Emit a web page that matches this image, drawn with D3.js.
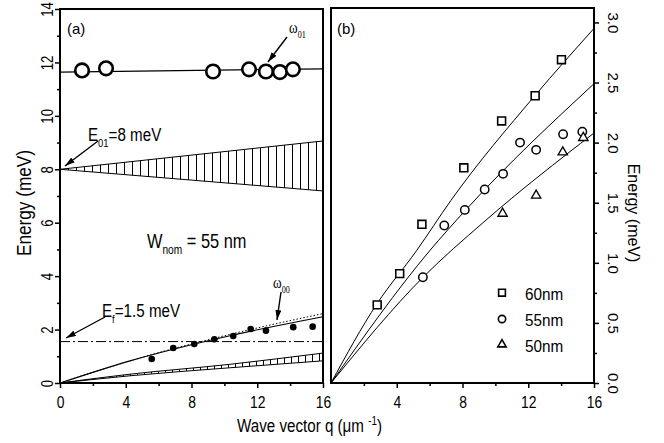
<!DOCTYPE html>
<html>
<head>
<meta charset="utf-8">
<style>
body{margin:0;background:#fff;}
svg text{font-family:"Liberation Sans",Arial,sans-serif;fill:#000;}
svg text.greek{font-family:"Liberation Serif","DejaVu Serif",serif;}
</style>
<script src="https://d3js.org/d3.v7.min.js"></script>
</head>
<body>
<script>
// ---- panel (a) ----
const w01Q = [1.34, 2.80, 9.31, 11.5, 12.53, 13.38, 14.17];
const w01E = [11.70, 11.78, 11.66, 11.74, 11.66, 11.64, 11.74];
const w01FitQ = [0, 16];
const w01FitE = [11.64, 11.76];

const w00Q = [5.58, 6.89, 8.17, 9.39, 10.54, 11.6, 12.53, 14.19, 15.37];
const w00E = [0.90, 1.31, 1.46, 1.64, 1.76, 2.02, 1.96, 2.09, 2.11];
const w00FitQ = [0, 4.26, 10.34, 16];
const w00FitE = [0, 0.83, 1.77, 2.48];
const w00DotE = [0, 0.83, 1.82, 2.60];

// continuum wedges (hatched)
const upWedgeQ = [0, 16];
const upWedgeHi = [8, 9.06];
const upWedgeLo = [8, 7.19];
const lowWedgeQ = [0, 4.26, 10.34, 16];
const lowWedgeHi = [0, 0.33, 0.70, 1.12];
const lowWedgeLo = [0, 0.27, 0.57, 0.83];

const fermiE = 1.55;

const aXTicks = [0, 4, 8, 12, 16];
const aXMinor = [2, 6, 10, 14];
const aYTicks = [0, 2, 4, 6, 8, 10, 12, 14];
const aYMinor = [1, 3, 5, 7, 9, 11, 13];

// ---- panel (b) ----
const sq60Q = [2.81, 4.18, 5.53, 8.08, 10.38, 12.42, 14.02];
const sq60E = [0.65, 0.91, 1.32, 1.79, 2.18, 2.39, 2.69];
const ci55Q = [5.59, 6.89, 8.14, 9.35, 10.47, 11.5, 12.48, 14.12, 15.29];
const ci55E = [0.88, 1.31, 1.44, 1.61, 1.74, 2.00, 1.94, 2.07, 2.09];
const tr50Q = [10.44, 12.48, 14.1, 15.35];
const tr50E = [1.41, 1.56, 1.92, 2.04];

const fit60Q = [0, 2.8, 5.2, 7.3, 12.4, 16];
const fit60E = [0, 0.66, 1.10, 1.52, 2.39, 2.95];
const fit55Q = [0, 6.0, 8.2, 16];
const fit55E = [0, 1.10, 1.44, 2.49];
const fit50Q = [0, 5.6, 9.3, 16];
const fit50E = [0, 0.88, 1.34, 2.08];

const legendNames = ["60nm", "55nm", "50nm"];

const bXTicks = [4, 8, 12, 16];
const bXMinor = [2, 6, 10, 14];
const bYTicks = [0, 0.5, 1.0, 1.5, 2.0, 2.5, 3.0];
const bYMinor = [0.25, 0.75, 1.25, 1.75, 2.25, 2.75];

const w = 664, h = 443;
const narrow = "scale(0.82,1)";   // no narrow font installed, squeeze the normal one
const zip = (a, b) => a.map((v, i) => [v, b[i]]);

const svg = d3.select("body").append("svg")
    .attr("width", w).attr("height", h);

const xA = d3.scaleLinear().domain([0, 16]).range([60, 323]);
const yA = d3.scaleLinear().domain([0, 14]).range([383, 9]);
const xB = d3.scaleLinear().domain([0, 16]).range([331, 594]);
const yB = d3.scaleLinear().domain([0, 3.12]).range([383, 8]);

const defs = svg.append("defs");
[["hatchA", 8], ["hatchB", 7]].forEach(p => {
    defs.append("pattern").attr("id", p[0])
        .attr("patternUnits", "userSpaceOnUse")
        .attr("x", 60).attr("y", 0)
        .attr("width", p[1]).attr("height", 10)
        .append("line")
        .attr("x1", 0.5).attr("x2", 0.5).attr("y1", 0).attr("y2", 10)
        .attr("stroke", "#000").attr("stroke-width", 1);
});
defs.append("marker").attr("id", "arrow")
    .attr("viewBox", "0 0 10 6").attr("refX", 10).attr("refY", 3)
    .attr("markerWidth", 10).attr("markerHeight", 6)
    .attr("markerUnits", "userSpaceOnUse").attr("orient", "auto")
    .append("path").attr("d", "M0,0L10,3L0,6z").attr("fill", "#000");

// ===== panel (a) =====
const gA = svg.append("g");
const lineA = d3.line().x(d => xA(d[0])).y(d => yA(d[1])).curve(d3.curveMonotoneX);
const areaA = d3.area().x(d => xA(d[0])).y0(d => yA(d[1])).y1(d => yA(d[2]));

gA.append("path")
    .attr("d", areaA(upWedgeQ.map((q, i) => [q, upWedgeLo[i], upWedgeHi[i]])))
    .attr("fill", "url(#hatchA)").attr("stroke", "#000").attr("stroke-width", 1);
gA.append("path")
    .attr("d", areaA.curve(d3.curveMonotoneX)(lowWedgeQ.map((q, i) => [q, lowWedgeLo[i], lowWedgeHi[i]])))
    .attr("fill", "url(#hatchB)").attr("stroke", "#000").attr("stroke-width", 1);

gA.append("line")
    .attr("x1", xA(0)).attr("x2", xA(16))
    .attr("y1", yA(fermiE)).attr("y2", yA(fermiE))
    .attr("stroke", "#000").attr("stroke-width", 1)
    .attr("stroke-dasharray", "10,3,2,3");

gA.append("path").attr("d", lineA(zip(w00FitQ, w00DotE)))
    .attr("fill", "none").attr("stroke", "#000").attr("stroke-width", 1)
    .attr("stroke-dasharray", "1.5,2");
gA.append("path").attr("d", lineA(zip(w00FitQ, w00FitE)))
    .attr("fill", "none").attr("stroke", "#000").attr("stroke-width", 1.2);
gA.append("path").attr("d", lineA(zip(w01FitQ, w01FitE)))
    .attr("fill", "none").attr("stroke", "#000").attr("stroke-width", 1.2);

gA.selectAll(".w00").data(zip(w00Q, w00E)).enter().append("circle")
    .attr("cx", d => xA(d[0])).attr("cy", d => yA(d[1])).attr("r", 3.3)
    .attr("fill", "#000");
gA.selectAll(".w01").data(zip(w01Q, w01E)).enter().append("circle")
    .attr("cx", d => xA(d[0])).attr("cy", d => yA(d[1])).attr("r", 6.8)
    .attr("fill", "#fff").attr("stroke", "#000").attr("stroke-width", 2.6);

// frame
gA.append("rect").attr("x", xA(0)).attr("y", yA(14))
    .attr("width", xA(16) - xA(0)).attr("height", yA(0) - yA(14))
    .attr("fill", "none").attr("stroke", "#000").attr("stroke-width", 2);

function styleTicks(g, size) {
    g.select(".domain").remove();
    g.selectAll(".tick line").attr("stroke-width", 1.5);
    g.attr("font-size", size).attr("font-family", null);
}

const axAx = gA.append("g").attr("transform", "translate(0,383)")
    .call(d3.axisBottom(xA).tickValues(aXTicks).tickSize(5).tickSizeOuter(0).tickFormat(d3.format("d")));
styleTicks(axAx, 17);
axAx.selectAll("text").attr("y", 25).attr("dy", null).attr("transform", narrow);
gA.append("g").attr("transform", "translate(0,383)")
    .call(d3.axisBottom(xA).tickValues(aXMinor).tickSize(3).tickFormat(""))
    .call(g => styleTicks(g, 17));

const ayAx = gA.append("g").attr("transform", "translate(60,0)")
    .call(d3.axisLeft(yA).tickValues(aYTicks).tickSize(5).tickSizeOuter(0).tickFormat(d3.format("d")));
styleTicks(ayAx, 16);
ayAx.selectAll("text").attr("x", null).attr("dy", null)
    .attr("text-anchor", "middle").attr("transform", "translate(-7,0) rotate(-90) " + narrow);
gA.append("g").attr("transform", "translate(60,0)")
    .call(d3.axisLeft(yA).tickValues(aYMinor).tickSize(3).tickFormat(""))
    .call(g => styleTicks(g, 16));

// annotations (a)
gA.append("text").attr("x", 67).attr("y", 34)
    .attr("font-size", 15).text("(a)");

function subLabel(g, x, y, main, sub, rest, size, cls) {
    const t = g.append("text").attr("font-size", size)
        .attr("transform", `translate(${x},${y}) ` + narrow);
    if (cls) t.attr("class", cls);
    t.append("tspan").text(main);
    t.append("tspan").attr("dy", size * 0.3).attr("font-size", size * 0.62).text(sub);
    if (rest) t.append("tspan").attr("dy", -size * 0.3).text(rest);
    return t;
}
subLabel(gA, 289, 33, "\u03c9", "01", null, 16, "greek");
subLabel(gA, 88, 141, "E", "01", "=8 meV", 18.5);
subLabel(gA, 147, 248, "W", "nom", " = 55 nm", 20);
subLabel(gA, 102, 317, "E", "f", "=1.5 meV", 18.5);
subLabel(gA, 273, 288, "\u03c9", "00", null, 16, "greek");

const arrows = [
    [287, 37, 268, 62],
    [98, 141, 65, 166],
    [105, 317, 66, 338],
    [281, 292, 277, 320]
];
gA.selectAll(".arr").data(arrows).enter().append("line")
    .attr("x1", d => d[0]).attr("y1", d => d[1])
    .attr("x2", d => d[2]).attr("y2", d => d[3])
    .attr("stroke", "#000").attr("stroke-width", 1.4)
    .attr("marker-end", "url(#arrow)");

// ===== panel (b) =====
const gB = svg.append("g");
const lineB = d3.line().x(d => xB(d[0])).y(d => yB(d[1])).curve(d3.curveMonotoneX);
[[fit60Q, fit60E], [fit55Q, fit55E], [fit50Q, fit50E]].forEach(f => {
    gB.append("path").attr("d", lineB(zip(f[0], f[1])))
        .attr("fill", "none").attr("stroke", "#000").attr("stroke-width", 1);
});

const symSq = d3.symbol(d3.symbolSquare, 62);
const symTr = d3.symbol(d3.symbolTriangle, 38);
gB.selectAll(".sq").data(zip(sq60Q, sq60E)).enter().append("path")
    .attr("d", symSq).attr("transform", d => `translate(${xB(d[0])},${yB(d[1])})`)
    .attr("fill", "#fff").attr("stroke", "#000").attr("stroke-width", 1.6);
gB.selectAll(".ci").data(zip(ci55Q, ci55E)).enter().append("circle")
    .attr("cx", d => xB(d[0])).attr("cy", d => yB(d[1])).attr("r", 4.2)
    .attr("fill", "#fff").attr("stroke", "#000").attr("stroke-width", 1.5);
gB.selectAll(".tr").data(zip(tr50Q, tr50E)).enter().append("path")
    .attr("d", symTr).attr("transform", d => `translate(${xB(d[0])},${yB(d[1])})`)
    .attr("fill", "#fff").attr("stroke", "#000").attr("stroke-width", 1.3);

gB.append("rect").attr("x", xB(0)).attr("y", yB(3.12))
    .attr("width", xB(16) - xB(0)).attr("height", yB(0) - yB(3.12))
    .attr("fill", "none").attr("stroke", "#000").attr("stroke-width", 2);

const bxAx = gB.append("g").attr("transform", "translate(0,383)")
    .call(d3.axisBottom(xB).tickValues(bXTicks).tickSize(5).tickSizeOuter(0).tickFormat(d3.format("d")));
styleTicks(bxAx, 17);
bxAx.selectAll("text").attr("y", 25).attr("dy", null).attr("transform", narrow);
gB.append("g").attr("transform", "translate(0,383)")
    .call(d3.axisBottom(xB).tickValues(bXMinor).tickSize(3).tickFormat(""))
    .call(g => styleTicks(g, 17));

const byAx = gB.append("g").attr("transform", "translate(594,0)")
    .call(d3.axisRight(yB).tickValues(bYTicks).tickSize(5).tickSizeOuter(0).tickFormat(d3.format(".1f")));
styleTicks(byAx, 15);
byAx.selectAll("text").attr("x", null).attr("dy", null)
    .attr("text-anchor", "middle").attr("transform", "translate(14,0) rotate(90)");
gB.append("g").attr("transform", "translate(594,0)")
    .call(d3.axisRight(yB).tickValues(bYMinor).tickSize(3).tickFormat(""))
    .call(g => styleTicks(g, 15));

gB.append("text").attr("x", 337).attr("y", 34)
    .attr("font-size", 15).text("(b)");

// legend
const legY = [292.7, 319, 344.5];
const legSyms = [d3.symbol(d3.symbolSquare, 46), d3.symbol(d3.symbolCircle, 42), d3.symbol(d3.symbolTriangle, 30)];
legendNames.forEach((name, i) => {
    gB.append("path").attr("d", legSyms[i])
        .attr("transform", `translate(502,${legY[i]})`)
        .attr("fill", "#fff").attr("stroke", "#000").attr("stroke-width", 1.6);
    gB.append("text").attr("transform", `translate(525,${legY[i] + 7}) scale(0.9,1)`)
        .attr("font-size", 17).text(name);
});

// axis titles
svg.append("text").attr("transform", "translate(31,203) rotate(-90) " + narrow)
    .attr("text-anchor", "middle").attr("font-size", 21).text("Energy (meV)");
svg.append("text").attr("transform", "translate(628,213) rotate(90)")
    .attr("text-anchor", "middle").attr("font-size", 16).text("Energy (meV)");
const xt = svg.append("text").attr("transform", "translate(237,432) " + narrow)
    .attr("font-size", 18.5);
xt.append("tspan").text("Wave vector q (\u03bcm ");
xt.append("tspan").attr("dy", -7).attr("font-size", 12).text("-1");
xt.append("tspan").attr("dy", 7).text(")");
</script>
</body>
</html>
